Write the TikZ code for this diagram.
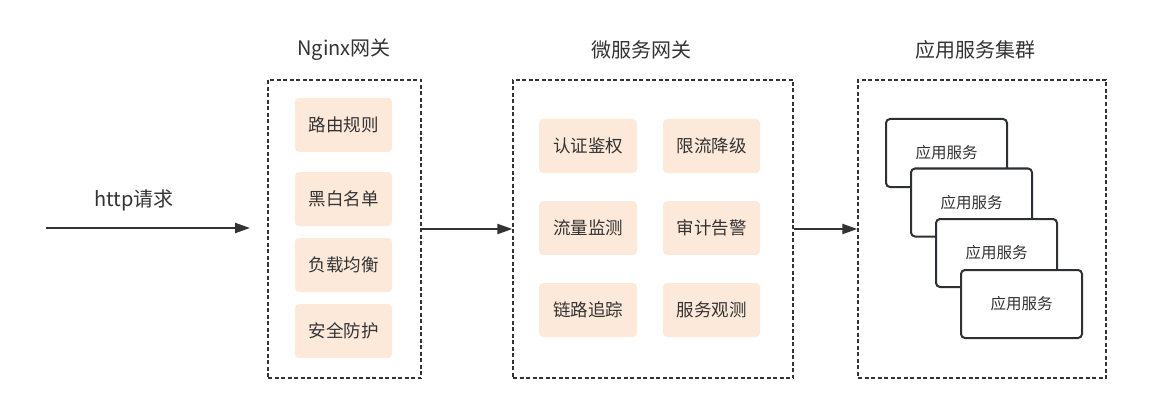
\documentclass[tikz,border=0pt]{standalone}
\usepackage{fontspec}
\setmainfont{Noto Sans CJK SC}
\usetikzlibrary{arrows.meta}
\definecolor{txt}{HTML}{333333}
\definecolor{peach}{HTML}{FCE9DA}
\definecolor{dark}{HTML}{2B3035}
\tikzset{
  group/.style={draw=txt, dash pattern=on 4pt off 2.5pt, line width=1.3pt, minimum width=#1, inner sep=0pt, minimum height=298pt},
  item/.style={fill=peach, rounded corners=4pt, minimum height=54pt, text=txt, font=\fontsize{17.5}{20}\selectfont, inner sep=0pt},
  app/.style={draw=dark, fill=white, line width=2pt, rounded corners=4pt, minimum width=121pt, minimum height=68pt, text=txt, font=\fontsize{15.5}{18}\selectfont, inner sep=0pt},
  title/.style={text=txt, font=\fontsize{20}{24}\selectfont, inner sep=0pt},
  flow/.style={draw=txt, line width=2.2pt, -{Triangle[length=15pt,width=10pt]}}
}
\begin{document}
\begin{tikzpicture}[x=1pt,y=-1pt]
\useasboundingbox (0,0) rectangle (1170,417);
% groups
\node[group=153pt] (nginx) at (344.5,229) {};
\node[group=280pt] (micro) at (653,229) {};
\node[group=248pt] (cluster) at (982,229) {};
% titles
\node[title] (tn) at (344,50) {Nginx网关};
\node[title] (tm) at (641.5,50) {微服务网关};
\node[title] (tc) at (975,50) {应用服务集群};
% nginx items
\node[item, minimum width=97pt] (n1) at (343.5,125) {路由规则};
\node[item, minimum width=97pt] (n2) at (343.5,199) {黑白名单};
\node[item, minimum width=97pt] (n3) at (343.5,265) {负载均衡};
\node[item, minimum width=97pt] (n4) at (343.5,331) {安全防护};
% micro items
\node[item, minimum width=98pt] (m1) at (588,146) {认证鉴权};
\node[item, minimum width=97pt] (m2) at (711.5,146) {限流降级};
\node[item, minimum width=98pt] (m3) at (588,228) {流量监测};
\node[item, minimum width=97pt] (m4) at (711.5,228) {审计告警};
\node[item, minimum width=98pt] (m5) at (588,310) {链路追踪};
\node[item, minimum width=97pt] (m6) at (711.5,310) {服务观测};
% apps
\node[app] (a1) at (946.5,153) {应用服务};
\node[app] (a2) at (971.5,202.5) {应用服务};
\node[app] (a3) at (996.5,253) {应用服务};
\node[app] (a4) at (1021.5,304) {应用服务};
% http
\coordinate (start) at (46,228);
\coordinate (httpend) at (250,228);
\node[title] (http) at (134,200) {http请求};
\draw[flow] (start) -- (httpend);
\draw[flow] (nginx.east) -- (micro.west);
\draw[flow] (micro.east) -- (cluster.west);
\end{tikzpicture}
\end{document}
